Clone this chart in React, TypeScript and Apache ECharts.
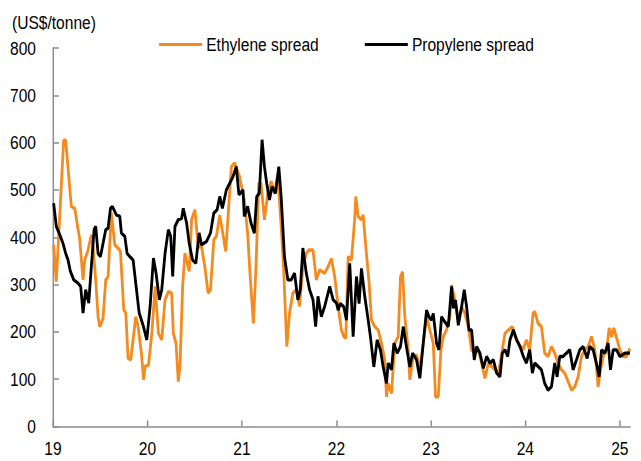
import React, { useEffect, useRef } from "react";
import * as echarts from "echarts";

// Ethylene spread (US$/tonne), x in decimal years
const ethYears = [
  2019.007, 2019.035, 2019.113, 2019.134, 2019.194, 2019.23, 2019.283, 2019.318, 2019.336, 2019.371,
  2019.406, 2019.424, 2019.452, 2019.477, 2019.495, 2019.53, 2019.558, 2019.583, 2019.618, 2019.654,
  2019.689, 2019.714, 2019.749, 2019.77, 2019.795, 2019.823, 2019.876, 2019.901, 2019.936, 2019.958,
  2019.975, 2020.011, 2020.046, 2020.081, 2020.116, 2020.151, 2020.186, 2020.221, 2020.256, 2020.274,
  2020.302, 2020.326, 2020.344, 2020.372, 2020.396, 2020.442, 2020.467, 2020.502, 2020.537, 2020.572,
  2020.607, 2020.642, 2020.667, 2020.702, 2020.73, 2020.765, 2020.8, 2020.828, 2020.853, 2020.888,
  2020.923, 2020.975, 2021.025, 2021.06, 2021.085, 2021.121, 2021.149, 2021.177, 2021.202, 2021.238,
  2021.273, 2021.309, 2021.344, 2021.379, 2021.415, 2021.44, 2021.475, 2021.504, 2021.539, 2021.574,
  2021.61, 2021.645, 2021.681, 2021.709, 2021.752, 2021.787, 2021.823, 2021.876, 2021.912, 2021.947,
  2021.982, 2022.018, 2022.053, 2022.078, 2022.099, 2022.124, 2022.159, 2022.194, 2022.205, 2022.23,
  2022.265, 2022.283, 2022.311, 2022.346, 2022.371, 2022.406, 2022.442, 2022.477, 2022.512, 2022.53,
  2022.548, 2022.583, 2022.618, 2022.654, 2022.678, 2022.7, 2022.724, 2022.76, 2022.777, 2022.813,
  2022.848, 2022.883, 2022.919, 2022.954, 2022.989, 2023.025, 2023.049, 2023.078, 2023.106, 2023.131,
  2023.166, 2023.201, 2023.219, 2023.254, 2023.29, 2023.325, 2023.36, 2023.396, 2023.431, 2023.466,
  2023.502, 2023.537, 2023.572, 2023.608, 2023.643, 2023.678, 2023.714, 2023.756, 2023.784, 2023.82,
  2023.862, 2023.89, 2023.926, 2023.975, 2024.011, 2024.046, 2024.081, 2024.099, 2024.134, 2024.17,
  2024.205, 2024.24, 2024.276, 2024.311, 2024.346, 2024.382, 2024.417, 2024.452, 2024.488, 2024.523,
  2024.558, 2024.594, 2024.629, 2024.664, 2024.7, 2024.735, 2024.77, 2024.795, 2024.823, 2024.859,
  2024.887, 2024.912, 2024.936, 2024.972, 2025.0, 2025.035, 2025.071, 2025.106,
];
const ethValues = [
  384, 306, 605, 605, 465, 461, 395, 310, 352, 373,
  405, 380, 310, 232, 211, 229, 310, 317, 451, 384,
  377, 370, 247, 240, 144, 141, 232, 211, 155, 99,
  127, 130, 197, 296, 197, 183, 268, 285, 282, 197,
  176, 95, 127, 296, 366, 328, 437, 458, 380, 380,
  338, 282, 289, 395, 402, 447, 405, 370, 444, 549,
  557, 528, 479, 409, 324, 218, 338, 514, 514, 437,
  493, 518, 493, 532, 423, 338, 169, 240, 282, 289,
  254, 338, 366, 373, 373, 310, 331, 324, 338, 355,
  317, 253, 204, 190, 186, 359, 352, 440, 486, 444,
  437, 447, 380, 303, 225, 211, 204, 176, 141, 63,
  91, 70, 176, 190, 317, 327, 232, 162, 99, 148,
  151, 120, 176, 232, 204, 176, 63, 63, 162, 190,
  204, 232, 299, 267, 225, 253, 239, 211, 162, 155,
  162, 134, 102, 134, 127, 120, 113, 162, 197, 204,
  211, 190, 176, 162, 183, 162, 239, 243, 218, 211,
  155, 148, 169, 155, 134, 120, 113, 95, 77, 84,
  105, 148, 162, 169, 190, 162, 84, 120, 148, 162,
  208, 190, 208, 183, 162, 148, 148, 165,
];

// Propylene spread (US$/tonne)
const proYears = [
  2019.007, 2019.035, 2019.064, 2019.106, 2019.134, 2019.159, 2019.184, 2019.219, 2019.265, 2019.293,
  2019.318, 2019.346, 2019.378, 2019.406, 2019.435, 2019.452, 2019.477, 2019.502, 2019.523, 2019.558,
  2019.583, 2019.608, 2019.629, 2019.671, 2019.707, 2019.724, 2019.76, 2019.784, 2019.813, 2019.848,
  2019.876, 2019.912, 2019.958, 2019.993, 2020.028, 2020.063, 2020.091, 2020.126, 2020.151, 2020.186,
  2020.221, 2020.246, 2020.267, 2020.291, 2020.326, 2020.361, 2020.379, 2020.414, 2020.442, 2020.477,
  2020.512, 2020.547, 2020.572, 2020.625, 2020.667, 2020.702, 2020.737, 2020.765, 2020.793, 2020.835,
  2020.87, 2020.905, 2020.94, 2020.968, 2021.011, 2021.025, 2021.06, 2021.096, 2021.131, 2021.156,
  2021.184, 2021.213, 2021.238, 2021.262, 2021.291, 2021.319, 2021.355, 2021.39, 2021.415, 2021.45,
  2021.486, 2021.521, 2021.557, 2021.592, 2021.617, 2021.645, 2021.681, 2021.716, 2021.752, 2021.78,
  2021.805, 2021.84, 2021.876, 2021.929, 2021.965, 2022.0, 2022.018, 2022.042, 2022.078, 2022.106,
  2022.141, 2022.177, 2022.212, 2022.24, 2022.265, 2022.3, 2022.336, 2022.36, 2022.396, 2022.431,
  2022.466, 2022.495, 2022.53, 2022.548, 2022.583, 2022.608, 2022.643, 2022.678, 2022.707, 2022.735,
  2022.777, 2022.806, 2022.848, 2022.883, 2022.919, 2022.954, 2022.979, 2023.007, 2023.025, 2023.06,
  2023.085, 2023.113, 2023.148, 2023.184, 2023.219, 2023.237, 2023.261, 2023.29, 2023.325, 2023.353,
  2023.378, 2023.403, 2023.431, 2023.459, 2023.484, 2023.519, 2023.555, 2023.59, 2023.625, 2023.661,
  2023.696, 2023.731, 2023.756, 2023.784, 2023.813, 2023.837, 2023.873, 2023.908, 2023.943, 2023.979,
  2024.011, 2024.046, 2024.074, 2024.099, 2024.134, 2024.17, 2024.205, 2024.24, 2024.276, 2024.311,
  2024.336, 2024.364, 2024.399, 2024.435, 2024.47, 2024.505, 2024.541, 2024.576, 2024.611, 2024.654,
  2024.682, 2024.717, 2024.76, 2024.781, 2024.806, 2024.841, 2024.876, 2024.901, 2024.929, 2024.965,
  2025.0, 2025.053, 2025.106,
];
const proValues = [
  472, 423, 409, 387, 366, 352, 328, 310, 303, 296,
  240, 289, 261, 338, 416, 423, 366, 359, 380, 416,
  419, 461, 465, 447, 444, 409, 402, 366, 359, 352,
  303, 240, 211, 183, 254, 356, 324, 268, 289, 366,
  416, 402, 317, 423, 437, 440, 461, 430, 387, 352,
  345, 409, 384, 391, 409, 451, 458, 486, 461, 500,
  514, 528, 549, 490, 500, 444, 465, 430, 409, 486,
  493, 606, 549, 514, 479, 507, 493, 549, 486, 359,
  310, 310, 324, 268, 289, 377, 324, 289, 268, 211,
  275, 232, 254, 296, 268, 261, 246, 260, 253, 225,
  345, 190, 317, 260, 334, 275, 225, 190, 126, 183,
  162, 126, 91, 134, 120, 176, 155, 169, 211, 176,
  126, 155, 141, 102, 176, 246, 232, 225, 239, 176,
  162, 232, 221, 211, 296, 250, 267, 214, 253, 289,
  253, 204, 204, 141, 169, 155, 123, 148, 134, 141,
  113, 105, 155, 162, 148, 183, 204, 183, 169, 148,
  134, 162, 113, 134, 127, 120, 91, 77, 84, 134,
  105, 148, 148, 155, 162, 120, 141, 162, 169, 144,
  169, 162, 127, 105, 162, 155, 176, 120, 162, 162,
  148, 155, 155,
];

const seriesNames = ["Ethylene spread", "Propylene spread"];
const seriesColors = ["#F58A1F", "#000000"];
const yTicks = { min: 0, max: 800, interval: 100 };
const xRange = { min: 2019, max: 2025.11, interval: 1 };
const unitLabel = "(US$/tonne)";

const FONT = "'Liberation Sans', Arial, sans-serif";
const FS = 19;
// The reference typography is horizontally condensed (Arial Narrow-like);
// the whole chart is drawn wider and condensed horizontally by this factor.
const SX = 0.82;
const W = 641;
const H = 461;

export default function App() {
  const ref = useRef<HTMLDivElement>(null);
  useEffect(() => {
    if (!ref.current) return;
    const chart = echarts.init(ref.current, null, { renderer: "svg" });
    const eth = ethYears.map((x, i) => [x, ethValues[i]]);
    const pro = proYears.map((x, i) => [x, proValues[i]]);
    const axisColor = "#8c8c8c";
    const px = (v: number) => v / SX;
    chart.setOption({
      animation: false,
      backgroundColor: "#ffffff",
      textStyle: { fontFamily: FONT },
      grid: { left: px(53), right: px(11), top: 48, bottom: 34.5, containLabel: false },
      legend: {
        data: seriesNames,
        left: px(155),
        top: 30,
        icon: "rect",
        itemWidth: px(43),
        itemHeight: 3,
        itemGap: px(46),
        textStyle: { fontSize: FS, color: "#000", fontFamily: FONT },
      },
      graphic: [
        {
          type: "text",
          x: px(12),
          y: 22,
          style: { text: unitLabel, fontSize: FS, fill: "#000", fontFamily: FONT, verticalAlign: "middle" },
        },
      ],
      xAxis: {
        type: "value",
        min: xRange.min,
        max: xRange.max,
        interval: xRange.interval,
        axisLine: { show: true, lineStyle: { color: axisColor, width: 1.5 } },
        axisTick: { show: true, inside: true, length: 6, lineStyle: { color: axisColor, width: 1.8 } },
        splitLine: { show: false },
        axisLabel: {
          fontSize: FS,
          color: "#000",
          margin: 12,
          showMaxLabel: false,
          formatter: (v: number) => (Math.abs(v - Math.round(v)) < 1e-6 ? String(Math.round(v) - 2000) : ""),
        },
      },
      yAxis: {
        type: "value",
        min: yTicks.min,
        max: yTicks.max,
        interval: yTicks.interval,
        axisLine: { show: true, lineStyle: { color: axisColor, width: 1.8 } },
        axisTick: { show: true, inside: true, length: px(6), lineStyle: { color: axisColor, width: 1.5 } },
        splitLine: { show: false },
        axisLabel: { fontSize: FS, color: "#000", margin: px(17) },
      },
      series: [
        {
          name: seriesNames[0],
          type: "line",
          data: eth,
          showSymbol: false,
          symbol: "none",
          color: seriesColors[0],
          lineStyle: { color: seriesColors[0], width: 3.4 },
          z: 2,
        },
        {
          name: seriesNames[1],
          type: "line",
          data: pro,
          showSymbol: false,
          symbol: "none",
          color: seriesColors[1],
          lineStyle: { color: seriesColors[1], width: 3.4 },
          z: 3,
        },
      ],
    });
    return () => chart.dispose();
  }, []);
  return (
    <div style={{ position: "fixed", left: 0, top: 0, width: W, height: H, overflow: "hidden", background: "#fff" }}>
      <div
        ref={ref}
        style={{
          width: W / SX,
          height: H,
          transform: `scaleX(${SX})`,
          transformOrigin: "0 0",
          background: "#fff",
        }}
      />
    </div>
  );
}
